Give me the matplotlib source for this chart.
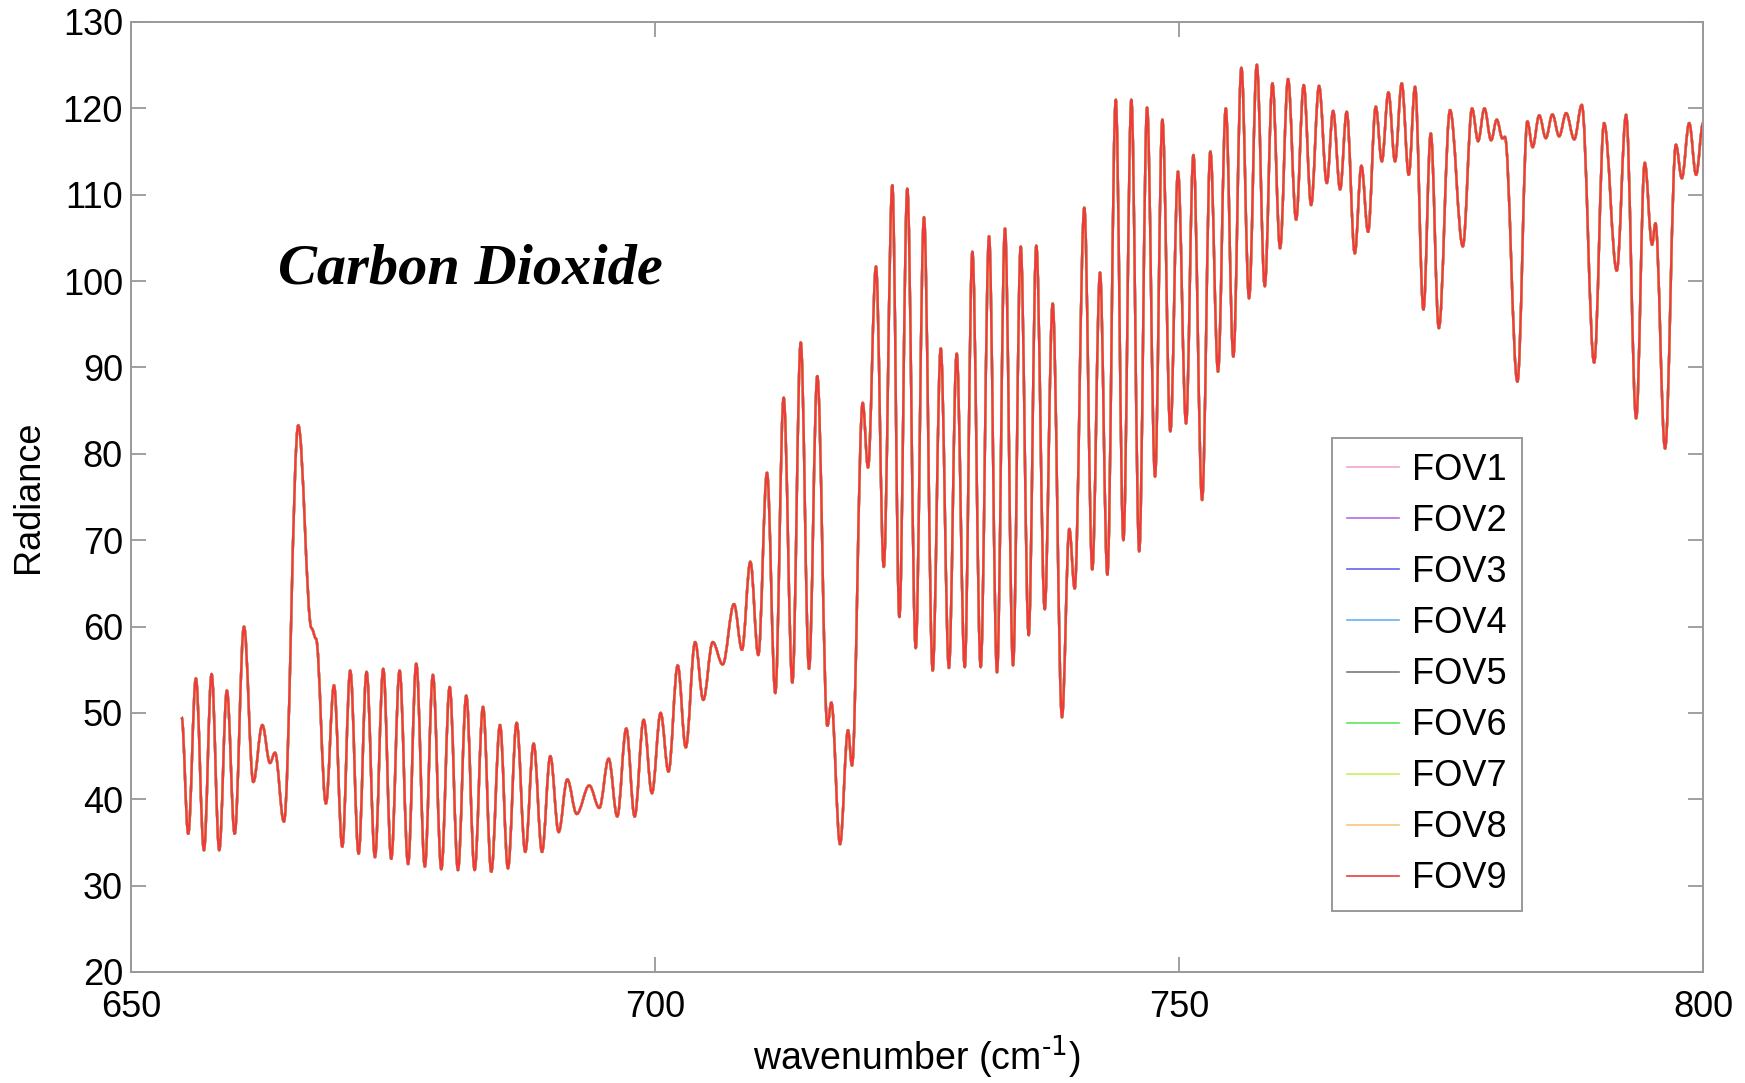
import numpy as np
import matplotlib.pyplot as plt
from matplotlib.path import Path
from matplotlib.patches import PathPatch
from matplotlib.lines import Line2D

# CO2 band spectrum: peak / trough radiances, same for all fields of view
Wavenumber = np.array([
    654.81, 655.44, 656.17, 656.94, 657.67, 658.40, 659.13, 659.87, 660.76, 661.65,
    662.51, 663.24, 663.72, 664.57, 665.94, 667.21, 667.63, 668.58, 669.35, 670.14,
    670.90, 671.70, 672.46, 673.26, 674.05, 674.81, 675.61, 676.42, 677.20, 678.02,
    678.79, 679.59, 680.39, 681.18, 681.97, 682.77, 683.57, 684.36, 685.19, 685.95,
    686.78, 687.60, 688.40, 689.20, 689.99, 690.79, 691.61, 692.51, 693.71, 694.67,
    695.56, 696.38, 697.24, 698.04, 698.90, 699.69, 700.52, 701.27, 702.15, 702.92,
    703.81, 704.59, 705.49, 706.44, 707.52, 708.28, 709.08, 709.84, 710.67, 711.46,
    712.26, 713.09, 713.89, 714.68, 715.47, 716.43, 716.81, 717.64, 718.40, 718.78,
    719.80, 720.31, 721.07, 721.81, 722.63, 723.30, 724.06, 724.86, 725.65, 726.48,
    727.25, 728.03, 728.77, 729.54, 730.27, 731.06, 731.86, 732.62, 733.38, 734.15,
    734.88, 735.64, 736.37, 737.17, 737.93, 738.82, 739.52, 740.03, 740.95, 741.71,
    742.45, 743.15, 743.95, 744.68, 745.44, 746.19, 746.94, 747.70, 748.40, 749.16,
    749.89, 750.66, 751.36, 752.19, 752.98, 753.71, 754.45, 755.17, 755.94, 756.67,
    757.41, 758.17, 758.90, 759.63, 760.39, 761.16, 761.89, 762.59, 763.35, 764.09,
    764.69, 765.36, 765.99, 766.76, 767.39, 768.03, 768.76, 769.34, 769.97, 770.60,
    771.24, 771.91, 772.51, 773.31, 774.01, 774.78, 775.85, 777.07, 777.95, 778.53,
    779.13, 779.77, 780.31, 780.85, 781.08, 782.28, 783.23, 783.73, 784.36, 784.99,
    785.62, 786.26, 786.93, 787.70, 788.42, 789.60, 790.55, 791.76, 792.65, 793.61,
    794.43, 795.13, 795.45, 796.37, 797.40, 797.97, 798.67, 799.33, 800.00])

Radiance = np.array([
    49.5, 36.0, 54.0, 34.1, 54.5, 34.1, 52.6, 36.0, 60.0, 42.0,
    48.6, 44.2, 45.4, 37.4, 83.3, 59.8, 58.6, 39.5, 53.2, 34.5,
    54.9, 33.7, 54.75, 33.3, 55.1, 33.1, 54.9, 32.5, 55.7, 32.2,
    54.4, 31.9, 53.0, 31.8, 52.0, 31.8, 50.7, 31.6, 48.6, 32.0,
    48.85, 33.9, 46.45, 33.9, 45.0, 36.2, 42.3, 38.3, 41.6, 39.0,
    44.7, 38.0, 48.2, 38.0, 49.2, 40.7, 50.0, 43.2, 55.5, 46.0,
    58.2, 51.5, 58.2, 55.6, 62.6, 57.3, 67.5, 56.7, 77.8, 52.3,
    86.5, 53.5, 92.9, 55.1, 89.0, 48.5, 51.2, 34.8, 48.0, 43.9,
    85.9, 78.4, 101.7, 66.9, 111.1, 61.1, 110.7, 57.5, 107.4, 54.9,
    92.2, 55.2, 91.6, 55.3, 103.4, 55.3, 105.2, 54.7, 106.1, 55.5,
    104.0, 59.0, 104.1, 62.0, 97.4, 49.5, 71.3, 64.4, 108.5, 66.6,
    101.0, 66.0, 121.0, 70.0, 121.0, 68.7, 120.1, 77.35, 118.7, 82.6,
    112.7, 83.5, 114.6, 74.65, 115.0, 89.5, 120.0, 91.25, 124.7, 98.0,
    125.05, 99.4, 122.9, 103.8, 123.4, 107.1, 122.7, 108.8, 122.6, 111.35,
    119.7, 110.6, 119.6, 103.2, 113.35, 105.7, 120.2, 113.85, 121.85, 113.85,
    122.9, 112.3, 122.5, 96.7, 117.1, 94.55, 119.8, 104.0, 120.0, 116.2,
    120.0, 116.3, 118.7, 116.5, 116.7, 88.35, 118.5, 115.5, 119.2, 116.55,
    119.3, 116.75, 119.45, 116.4, 120.4, 90.55, 118.3, 101.2, 119.25, 84.1,
    113.7, 104.2, 106.7, 80.6, 115.8, 111.9, 118.3, 112.3, 118.3])

FOVs = ["FOV1", "FOV2", "FOV3", "FOV4", "FOV5", "FOV6", "FOV7", "FOV8", "FOV9"]
Colors = ["#f4a6cc", "#b36be6", "#6464f0", "#66b3f5", "#7a7a7a",
          "#5ee65e", "#c8f060", "#f8c77e", "#ee3b3b"]


# smooth spectrum path through the peaks/troughs (flat tangent at each one)
def SpectrumPath(x, y, k=0.36):
    verts = [(x[0], y[0])]
    codes = [Path.MOVETO]
    for i in range(len(x) - 1):
        dx = x[i + 1] - x[i]
        verts += [(x[i] + k * dx, y[i]), (x[i + 1] - k * dx, y[i + 1]), (x[i + 1], y[i + 1])]
        codes += [Path.CURVE4] * 3
    return Path(verts, codes)


plt.rcParams["font.family"] = ["Liberation Sans", "DejaVu Sans"]
plt.rcParams["mathtext.default"] = "regular"

fig = plt.figure(figsize=(17.45, 10.83), dpi=100)
ax = fig.add_axes([0.0752, 0.1025, 0.9008, 0.8772])

handles = []
for name, col in zip(FOVs, Colors):
    ax.add_patch(PathPatch(SpectrumPath(Wavenumber, Radiance), fill=False,
                           edgecolor=col, lw=1.7, joinstyle="round"))
    handles.append(Line2D([], [], color=col, lw=1.2, label=name))

ax.set_xlim(650, 800)
ax.set_ylim(20, 130)
ax.set_xticks([650, 700, 750, 800])
ax.set_yticks(np.arange(20, 131, 10))
ax.tick_params(direction="in", length=11, width=1.3, color="#999999",
               top=True, right=True, labelsize=26)
ax.tick_params(axis="x", pad=13)
ax.tick_params(axis="y", pad=6)
for s in ax.spines.values():
    s.set_color("#999999")
    s.set_linewidth(1.4)

ax.set_xlabel(r"wavenumber (cm$^{\text{-1}}$)", fontsize=27, labelpad=6)
ax.set_ylabel("Radiance", fontsize=26, labelpad=12)

ax.text(664.0, 101.3, "Carbon Dioxide", family="Liberation Serif", weight="bold",
        style="italic", fontsize=42, va="center", ha="left")

leg = ax.legend(handles=handles, loc="upper left", bbox_to_anchor=(0.764, 0.5616),
                borderaxespad=0, fontsize=26, handlelength=1.45, handletextpad=0.37,
                labelspacing=0.445, borderpad=0.4, fancybox=False, framealpha=1)
leg.get_frame().set_edgecolor("#999999")
leg.get_frame().set_linewidth(1.4)

plt.savefig("out.png", dpi=100)
